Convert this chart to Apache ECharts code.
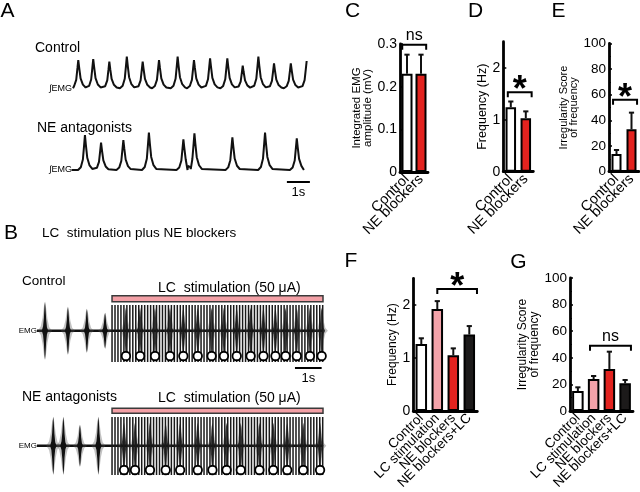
<!DOCTYPE html>
<html><head><meta charset="utf-8">
<script src="https://cdn.jsdelivr.net/npm/echarts@6/dist/echarts.min.js"></script>
<style>html,body{margin:0;padding:0;background:#fff}#c{width:640px;height:492px}</style>
</head><body><div id="c"></div>
<script>
// ===== Panel A: integrated EMG, peak times (s) and peak levels (a.u.) =====
const aCtrlPeakT = [0.36, 1.01, 1.71, 2.47, 3.16, 3.87, 4.68, 5.39, 6.09, 6.84, 7.51, 8.19, 8.87, 9.60, 10.29];
const aCtrlPeakV = [3.0, 3.1, 2.83, 3.33, 2.83, 3.0, 3.33, 3.0, 3.17, 3.17, 2.43, 3.33, 2.67, 2.67, 2.9];
const aCtrlBase = 0.17;
const aCtrlSpan = [0.13, 10.29];
const aNePeakT = [0.65, 1.35, 2.32, 3.43, 4.93, 5.41, 7.06, 8.48, 9.86];
const aNePeakV = [3.7, 2.93, 3.2, 3.93, 3.27, 3.87, 3.47, 3.93, 3.37];
const aNeBase = 0.2;
const aNeSpan = [0.07, 10.17];
const aScaleBar = [9.43, 1];          // start (s), length (s)

// ===== Panel B: raw EMG bursts, LC stimulation =====
const bTraceEnd = 10.71;
const bStimOn = 2.81, bStimOff = 10.71, bStimHz = 9;
const bCtrlBurstT = [0.3, 1.16, 1.87, 2.55];
const bCtrlBurstA = [2.9, 2.4, 2.2, 1.8];
const bCtrlStimBurstT = [3.33, 3.86, 4.42, 4.98, 5.48, 6.02, 6.54, 7.0, 7.48, 8.0, 8.48, 8.93, 9.31, 9.73, 10.22, 10.66];
const bNeBurstT = [0.61, 0.99, 1.61, 2.3];
const bNeBurstA = [2.9, 2.9, 2.1, 2.9];
const bNeStimBurstT = [3.26, 3.67, 4.23, 4.82, 5.36, 6.02, 6.57, 7.1, 7.63, 8.33, 8.85, 9.37, 9.97, 10.6];
const bScaleBar = [9.66, 1];

// ===== Bar panels =====
const cCats = ['Control', 'NE blockers'];
const cMean = [0.23, 0.23];
const cErr  = [0.045, 0.045];
const cSig  = {from: 0, to: 1, level: 0.298, label: 'ns'};

const dCats = ['Control', 'NE blockers'];
const dMean = [1.24, 1.03];
const dErr  = [0.11, 0.13];
const dSig  = {from: 0, to: 1, level: 1.53, label: '*'};

const eCats = ['Control', 'NE blockers'];
const eMean = [13.8, 33];
const eErr  = [3.1, 13];
const eSig  = {from: 0, to: 1, level: 56, label: '*'};

const fCats = ['Control', 'LC stimulation', 'NE blockers', 'NE blockers+LC'];
const fMean = [1.26, 1.92, 1.05, 1.44];
const fErr  = [0.11, 0.15, 0.13, 0.16];
const fSig  = {from: 1, to: 3, level: 2.3, label: '*'};

const gCats = ['Control', 'LC stimulation', 'NE blockers', 'NE blockers+LC'];
const gMean = [15, 24, 31.6, 20.8];
const gErr  = [2.8, 2.3, 13, 2.5];
const gSig  = {from: 1, to: 3, level: 49, label: 'ns'};

// ---------------------------------------------------------------
const FF = '"Liberation Sans", Arial, Helvetica, sans-serif';
const barColors = {'Control': '#ffffff', 'NE blockers': '#e2231f', 'LC stimulation': '#f4a3aa', 'NE blockers+LC': '#1c1a1a'};

const peakDt = [-0.3, -0.18, -0.09, -0.035, 0, 0.04, 0.1, 0.2, 0.32];
const peakF  = [0, 0.08, 0.3, 0.72, 1, 0.72, 0.35, 0.13, 0.03];
function buildTrace(ts, vs, base, span) {
  const pts = [[span[0], base]];
  ts.forEach((t, i) => {
    const amp = vs[i] - base;
    peakDt.forEach((dt, k) => {
      const tt = t + dt;
      if (tt > span[0] && tt <= span[1] + 1e-9) pts.push([tt, base + amp * peakF[k]]);
    });
  });
  pts.sort((p, q) => p[0] - q[0]);
  if (pts[pts.length - 1][0] < span[1] - 1e-9) pts.push([span[1], base]);
  return pts;
}

const grids = [
  {left: 70, top: 50, width: 253, height: 40},      // 0 A1
  {left: 70, top: 132, width: 253, height: 40},     // 1 A2
  {left: 37, top: 295.7, width: 286, height: 70},   // 2 B1
  {left: 37, top: 410.7, width: 286, height: 70},   // 3 B2
  {left: 400, top: 44, width: 28, height: 128},     // 4 C
  {left: 503.3, top: 41.7, width: 30, height: 130}, // 5 D
  {left: 609, top: 43.3, width: 30, height: 128.4}, // 6 E
  {left: 413.3, top: 278.3, width: 64, height: 132.7}, // 7 F
  {left: 570, top: 278, width: 63, height: 133}     // 8 G
].map(g => Object.assign({outerBoundsMode: 'none', containLabel: false, show: false}, g));

const xAxes = [], yAxes = [], series = [];
function hiddenAxes(g, xmax, ymin, ymax) {
  xAxes.push({gridIndex: g, type: 'value', min: 0, max: xmax, show: false});
  yAxes.push({gridIndex: g, type: 'value', min: ymin, max: ymax, show: false});
}
hiddenAxes(0, 11, 0, 4);
hiddenAxes(1, 11, 0, 4);
hiddenAxes(2, bTraceEnd, -3.5, 3.5);
hiddenAxes(3, bTraceEnd, -3.5, 3.5);

// A traces
series.push({type: 'line', xAxisIndex: 0, yAxisIndex: 0, data: buildTrace(aCtrlPeakT, aCtrlPeakV, aCtrlBase, aCtrlSpan),
  symbol: 'none', lineStyle: {color: '#111', width: 2}, silent: true});
series.push({type: 'line', xAxisIndex: 1, yAxisIndex: 1, data: buildTrace(aNePeakT, aNePeakV, aNeBase, aNeSpan),
  symbol: 'none', lineStyle: {color: '#111', width: 2}, silent: true});

function scaleRender(yLine, yText) {
  return function (params, api) {
    const t = api.value(0), len = api.value(1);
    const p0 = api.coord([t, yLine]), p1 = api.coord([t + len, yLine]);
    const pt = api.coord([t + len / 2, yText]);
    return {type: 'group', children: [
      {type: 'line', shape: {x1: p0[0], y1: p0[1], x2: p1[0], y2: p1[1]}, style: {stroke: '#000', lineWidth: 2}},
      {type: 'text', style: {text: '1s', x: pt[0], y: pt[1], font: '13px ' + FF, fill: '#000', textAlign: 'center', textVerticalAlign: 'middle'}}
    ]};
  };
}
series.push({type: 'custom', xAxisIndex: 1, yAxisIndex: 1, data: [aScaleBar], renderItem: scaleRender(-1.0, -2.0), clip: false});

// B panels
const env = [[-1, 0], [-0.6, 0.15], [-0.35, 0.45], [-0.15, 0.85], [0, 1], [0.15, 0.8], [0.35, 0.4], [0.6, 0.12], [1, 0]];
function burstRender(halfW, haloK, coreFill) {
  return function (params, api) {
    const t = api.value(0), a = api.value(1);
    const poly = (hw, aa) => {
      const top = env.map(([u, f]) => api.coord([t + u * hw, f * aa]));
      const bot = env.slice().reverse().map(([u, f]) => api.coord([t + u * hw, -f * aa]));
      return top.concat(bot);
    };
    return {type: 'group', children: [
      {type: 'polygon', shape: {points: poly(halfW * haloK, a * 1.0)}, style: {fill: 'rgba(80,80,80,0.35)'}},
      {type: 'polygon', shape: {points: poly(halfW, a)}, style: {fill: coreFill}}
    ]};
  };
}
function stimLineRender(up, down) {
  return function (params, api) {
    const t = api.value(0);
    const p0 = api.coord([t, up]), p1 = api.coord([t, -down]);
    return {type: 'line', shape: {x1: p0[0], y1: p0[1], x2: p1[0], y2: p1[1]}, style: {stroke: '#1a1a1a', lineWidth: 1.5}};
  };
}
function stimBarRender(yb, yt) {
  return function (params, api) {
    const p0 = api.coord([api.value(0), yt]), p1 = api.coord([api.value(1), yb]);
    return {type: 'rect', shape: {x: p0[0], y: p0[1], width: p1[0] - p0[0], height: p1[1] - p0[1]},
      style: {fill: '#f3a0a6', stroke: '#3a3a3a', lineWidth: 1.5}};
  };
}
const stimT = [];
for (let k = 0; bStimOn + k / bStimHz <= bStimOff + 1e-9; k++) stimT.push([+(bStimOn + k / bStimHz).toFixed(4)]);

function bPanel(g, burstT, burstA, stimBurstT, up, down, circY, barB, barT) {
  series.push({type: 'line', xAxisIndex: g, yAxisIndex: g, data: [[0, 0], [bTraceEnd, 0]], symbol: 'none',
    lineStyle: {color: '#111', width: 2.5}, silent: true, z: 2});
  series.push({type: 'custom', xAxisIndex: g, yAxisIndex: g, data: burstT.map((t, i) => [t, burstA[i]]),
    renderItem: burstRender(0.12, 2.2, '#111'), z: 3});
  series.push({type: 'custom', xAxisIndex: g, yAxisIndex: g, data: stimBurstT.map(t => [t, 2.3]),
    renderItem: burstRender(0.13, 1.8, 'rgba(17,17,17,0.8)'), z: 3});
  series.push({type: 'custom', xAxisIndex: g, yAxisIndex: g, data: stimT,
    renderItem: stimLineRender(up, down), z: 4});
  series.push({type: 'scatter', xAxisIndex: g, yAxisIndex: g, data: stimBurstT.map(t => [t, circY]),
    symbol: 'circle', symbolSize: 8.5, itemStyle: {color: '#fff', borderColor: '#000', borderWidth: 1.8, opacity: 1}, z: 6, silent: true});
  series.push({type: 'custom', xAxisIndex: g, yAxisIndex: g, data: [[bStimOn, bStimOff]],
    renderItem: stimBarRender(barB, barT), clip: false, z: 5});
}
bPanel(2, bCtrlBurstT, bCtrlBurstA, bCtrlStimBurstT, 2.57, 3.13, -2.53, 2.9, 3.5);
bPanel(3, bNeBurstT, bNeBurstA, bNeStimBurstT, 2.87, 2.93, -2.43, 3.24, 3.74);
series.push({type: 'custom', xAxisIndex: 2, yAxisIndex: 2, data: [bScaleBar], renderItem: scaleRender(-3.73, -4.73), clip: false, z: 6});

// Bar panels
function errRender(params, api) {
  const x = api.value(0), m = api.value(1), e = api.value(2);
  const p0 = api.coord([x, m]), p1 = api.coord([x, m + e]);
  const cap = 2.6;
  return {type: 'group', children: [
    {type: 'line', shape: {x1: p0[0], y1: p0[1], x2: p1[0], y2: p1[1]}, style: {stroke: '#111', lineWidth: 2}},
    {type: 'line', shape: {x1: p1[0] - cap, y1: p1[1], x2: p1[0] + cap, y2: p1[1]}, style: {stroke: '#111', lineWidth: 2}}
  ]};
}
function bracketRender(label, o) {
  return function (params, api) {
    const a = api.coord([api.value(0), api.value(2)]);
    const b = api.coord([api.value(1), api.value(2)]);
    const band = api.size([1, 0])[0];
    const xl = a[0] + o.offL * band, xr = b[0] + o.offR * band, y = a[1];
    const isStar = label === '*';
    return {type: 'group', children: [
      {type: 'polyline', shape: {points: [[xl, y + 5], [xl, y], [xr, y], [xr, y + 5]]}, style: {stroke: '#000', lineWidth: 2, fill: null}},
      {type: 'text', style: {text: label, x: (xl + xr) / 2, y: y + (isStar ? -1 : -9.3),
        font: isStar ? 'bold 36px ' + FF : '16px ' + FF, fill: '#000', textAlign: 'center', textVerticalAlign: 'middle'}}
    ]};
  };
}
function barPanel(g, cats, mean, err, sig, o) {
  xAxes.push({gridIndex: g, type: 'category', data: cats,
    axisLine: {show: true, lineStyle: {color: '#000', width: 2.8}}, axisTick: {show: false},
    axisLabel: {rotate: 45, interval: 0, fontSize: o.xfs, color: '#000', margin: 5, fontFamily: FF}});
  yAxes.push({gridIndex: g, type: 'value', min: o.min, max: o.max, interval: o.interval,
    name: o.name, nameLocation: 'middle', nameRotate: 90, nameGap: o.nameGap,
    nameTextStyle: {fontSize: o.nfs, lineHeight: o.nfs - 0.5, color: '#000', fontFamily: FF},
    axisLine: {show: true, onZero: false, lineStyle: {color: '#000', width: 2.8}},
    axisTick: {show: true, inside: true, length: 3, lineStyle: {color: '#000', width: 1.5}, customValues: o.custom},
    minorTick: o.minor ? {show: true, splitNumber: 2, length: 2, lineStyle: {color: '#000', width: 1.2}} : {show: false},
    splitLine: {show: false},
    axisLabel: {fontSize: o.yfs, color: '#000', margin: 3, fontFamily: FF, customValues: o.custom}});
  series.push({type: 'bar', xAxisIndex: g, yAxisIndex: g, barWidth: o.barWidth,
    data: mean.map((v, i) => ({value: v, itemStyle: {color: barColors[cats[i]]}})),
    itemStyle: {borderColor: '#000', borderWidth: 2}, z: 2, silent: true});
  series.push({type: 'custom', xAxisIndex: g, yAxisIndex: g, data: mean.map((v, i) => [i, v, err[i]]), renderItem: errRender, z: 3});
  series.push({type: 'custom', xAxisIndex: g, yAxisIndex: g, data: [[sig.from, sig.to, sig.level]],
    renderItem: bracketRender(sig.label, o), clip: false, z: 3});
}
barPanel(4, cCats, cMean, cErr, cSig, {min: 0, max: 0.3, interval: 0.1, name: 'Integrated EMG\namplitude (mV)', nameGap: 26, nfs: 11.5,
  xfs: 14.5, yfs: 14, barWidth: 11, offL: -0.34, offR: 0.37});
barPanel(5, dCats, dMean, dErr, dSig, {min: 0, max: 2.5, interval: 1, custom: [0, 1, 2], name: 'Frequency (Hz)', nameGap: 14, nfs: 12.5,
  xfs: 14.5, yfs: 14, barWidth: 10.5, offL: -0.2, offR: 0.39});
barPanel(6, eCats, eMean, eErr, eSig, {min: 0, max: 100, interval: 20, minor: true, name: 'Irregularity Score\nof frequency', nameGap: 16.5, nfs: 11,
  xfs: 14.5, yfs: 13.5, barWidth: 10, offL: -0.23, offR: 0.37});
barPanel(7, fCats, fMean, fErr, fSig, {min: 0, max: 2.5, interval: 1, custom: [0, 1, 2], name: 'Frequency (Hz)', nameGap: 12, nfs: 12,
  xfs: 13.5, yfs: 14, barWidth: 11.5, offL: 0, offR: 0.48});
barPanel(8, gCats, gMean, gErr, gSig, {min: 0, max: 100, interval: 20, minor: true, name: 'Irregularity Score\nof frequency', nameGap: 20, nfs: 12,
  xfs: 13.5, yfs: 13.5, barWidth: 11.5, offL: -0.23, offR: 0.37});

// Free text labels
const texts = [
  ['A', 7.5, 11.5, 21, 'center'], ['B', 11, 233.3, 21, 'center'], ['C', 352.5, 11.5, 21, 'center'],
  ['D', 475.5, 11.5, 21, 'center'], ['E', 558.5, 11.5, 21, 'center'], ['F', 351, 261, 21, 'center'],
  ['G', 518.5, 262, 21, 'center'],
  ['Control', 35, 48.3, 14, 'left'], ['∫EMG', 72, 89, 9, 'right'],
  ['NE antagonists', 37, 127.7, 14, 'left'], ['∫EMG', 72, 169.3, 9, 'right'],
  ['LC  stimulation plus NE blockers', 42, 233.3, 13.5, 'left'],
  ['Control', 22, 281.7, 13.5, 'left'], ['LC  stimulation (50 μA)', 158, 288.5, 14, 'left'],
  ['EMG', 37, 330.7, 8, 'right'],
  ['NE antagonists', 22, 396.7, 14, 'left'], ['LC  stimulation (50 μA)', 158, 398.5, 14, 'left'],
  ['EMG', 37, 445.7, 8, 'right']
];

const chart = echarts.init(document.getElementById('c'), null, {renderer: 'canvas', width: 640, height: 492});
chart.setOption({
  animation: false,
  backgroundColor: '#fff',
  textStyle: {fontFamily: FF},
  grid: grids, xAxis: xAxes, yAxis: yAxes, series: series,
  graphic: {elements: texts.map(t => ({type: 'text', x: t[1], y: t[2], silent: true,
    style: {text: t[0], font: t[3] + 'px ' + FF, fill: '#000', textAlign: t[4], textVerticalAlign: 'middle'}}))}
});
</script></body></html>
